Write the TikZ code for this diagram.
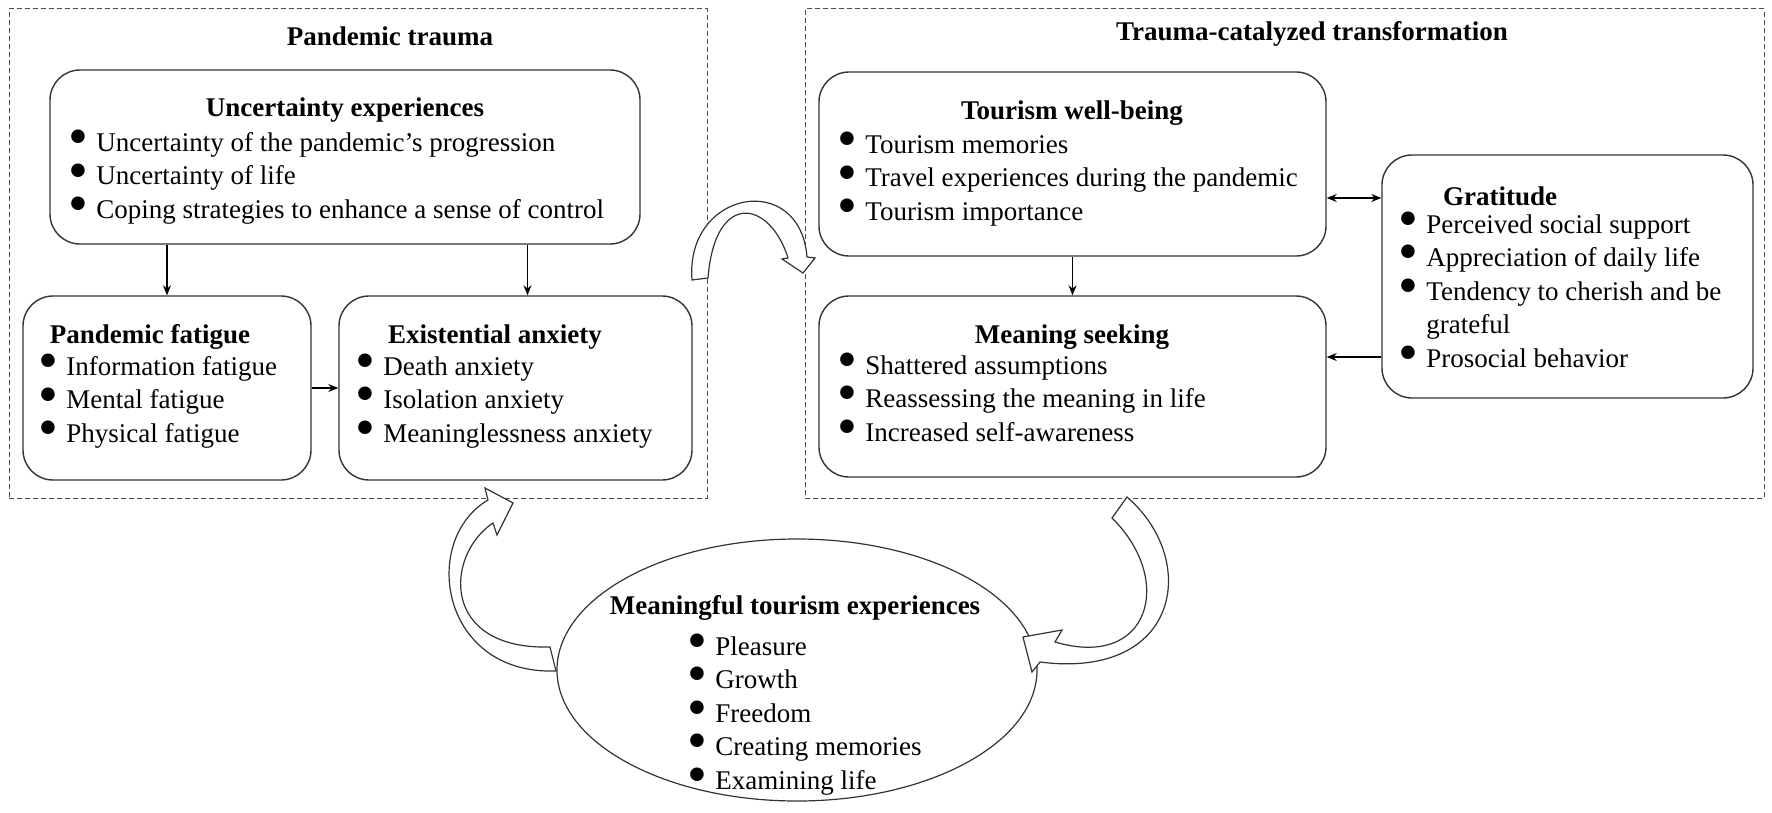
\documentclass[tikz,border=0pt]{standalone}
\usepackage{fontspec}
\setmainfont{Liberation Serif}
\usetikzlibrary{shapes.geometric,arrows.meta,calc}
\newcommand\bul{\makebox[14pt][l]{\smash{\raisebox{-0.35ex}{\scalebox{2.1}{\textbullet}}}}}
\begin{document}
\begin{tikzpicture}[x=0.5pt,y=-0.5pt,
  dbox/.style={draw=black!70,dash pattern=on 2.5pt off 1.5pt,line width=0.5pt,inner sep=0},
  box/.style={draw=black!80,rounded corners=15pt,line width=0.7pt,inner sep=0},
  ttl/.style={font=\fontsize{13.5}{15}\selectfont\bfseries,inner sep=0},
  lst/.style={anchor=north west,align=left,inner sep=0,font=\fontsize{13.5}{16.75}\selectfont},
  arr/.style={-{Stealth[length=5pt,width=4pt]},line width=0.6pt},
  darr/.style={{Stealth[length=5pt,width=4pt]}-{Stealth[length=5pt,width=4pt]},line width=0.6pt},
  hollow/.style={draw=black!80,fill=white,line width=0.6pt}]
\useasboundingbox (0,0) rectangle (1772,813);
% dashed frames
\node[dbox,minimum width=349pt,minimum height=244.5pt] (lf) at (358,253.5) {};
\node[dbox,minimum width=479.5pt,minimum height=244.5pt] (rf) at (1284.5,253.5) {};
\node[ttl] (lft) at (390,36) {Pandemic trauma};
\node[ttl] (rft) at (1312,34) {Trauma-catalyzed transformation};
% boxes
\node[box,minimum width=295pt,minimum height=87pt] (u) at (345,157) {};
\node[box,minimum width=144pt,minimum height=92pt] (f) at (167,388) {};
\node[box,minimum width=176.5pt,minimum height=92pt] (e) at (515.5,388) {};
\node[box,minimum width=253.5pt,minimum height=92pt] (tw) at (1072.5,164) {};
\node[box,minimum width=253.5pt,minimum height=90.5pt] (ms) at (1072.5,386.5) {};
\node[box,minimum width=185.5pt,minimum height=121.5pt] (g) at (1567.5,276.5) {};
\node[draw=black!80,line width=0.6pt,ellipse,minimum width=240pt,minimum height=131pt,inner sep=0] (m) at (797,670) {};
% titles
\node[ttl] (ut) at (345,110) {Uncertainty experiences};
\node[ttl] (ft) at (150,337) {Pandemic fatigue};
\node[ttl] (et) at (495,337) {Existential anxiety};
\node[ttl] (twt) at (1072,113) {Tourism well-being};
\node[ttl] (mst) at (1072,337) {Meaning seeking};
\node[ttl] (gt) at (1500,196) {Gratitude};
\node[ttl] (mt) at (795,608) {Meaningful tourism experiences};
% lists
\node[lst] (ul) at (68,132) {\bul Uncertainty of the pandemic’s progression\\ \bul Uncertainty of life\\ \bul Coping strategies to enhance a sense of control};
\node[lst] (fl) at (38,356) {\bul Information fatigue\\ \bul Mental fatigue\\ \bul Physical fatigue};
\node[lst] (el) at (355,356) {\bul Death anxiety\\ \bul Isolation anxiety\\ \bul Meaninglessness anxiety};
\node[lst] (twl) at (837,135) {\bul Tourism memories\\ \bul Travel experiences during the pandemic\\ \bul Tourism importance};
\node[lst] (msl) at (837,355) {\bul Shattered assumptions\\ \bul Reassessing the meaning in life\\ \bul Increased self-awareness};
\node[lst] (gl) at (1398,214) {\bul Perceived social support\\ \bul Appreciation of daily life\\ \bul Tendency to cherish and be\\ \makebox[14pt]{}grateful\\ \bul Prosocial behavior};
\node[lst] (ml) at (687,636) {\bul Pleasure\\ \bul Growth\\ \bul Freedom\\ \bul Creating memories\\ \bul Examining life};
% connectors
\draw[arr] (u.south -| f.north) -- (f.north);
\draw[arr] ([xshift=6pt]u.south -| e.north) -- ([xshift=6pt]e.north);
\draw[arr] (f.east) -- (e.west);
\draw[arr] (tw.south) -- (ms.north);
\coordinate (a1) at ([yshift=-17pt]tw.east);
\draw[darr] (a1) -- (a1 -| g.west);
\coordinate (a2) at ([yshift=14.75pt]ms.east);
\draw[arr] (a2 -| g.west) -- (a2);
% hollow curved arrows
\draw[hollow] (556,671) .. controls (440,675) and (420,540) .. (488,500)
  -- (485,488) -- (513,503) -- (497,535) -- (493,523)
  .. controls (445,555) and (440,650) .. (550,647) -- cycle;
\draw[hollow] (1127,497) .. controls (1200,560) and (1180,680) .. (1040,662)
  -- (1032,672) -- (1023,637) -- (1062,630) -- (1055,642)
  .. controls (1150,670) and (1175,580) .. (1112,518) -- cycle;
\draw[hollow] (692,280) .. controls (685,190) and (800,170) .. (807,257)
  -- (815,258) -- (803,273) -- (782,259) -- (788,258)
  .. controls (770,200) and (715,190) .. (708,278) -- cycle;
\end{tikzpicture}
\end{document}
